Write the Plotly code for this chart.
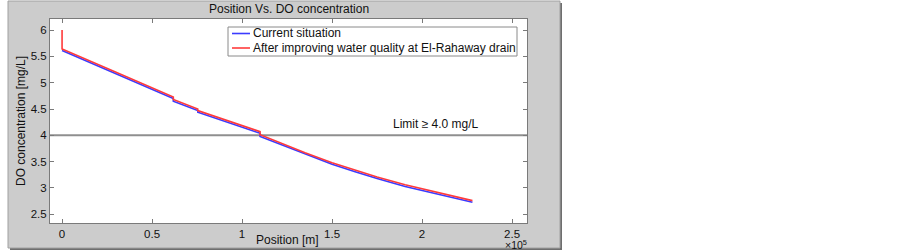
import plotly.graph_objects as go

# ---------------- data ----------------
pos_current = [0, 30000, 61800, 61800, 75400, 75400, 110000, 110000, 120000, 135000,
               150000, 162800, 175000, 190600, 205000, 228000]
do_current = [5.61, 5.17, 4.70, 4.65, 4.47, 4.44, 4.04, 3.98, 3.85, 3.64,
              3.45, 3.31, 3.18, 3.03, 2.91, 2.73]

pos_improved = [0, 0, 30000, 61800, 61800, 75400, 75400, 110000, 110000, 120000, 135000,
                150000, 162800, 175000, 190600, 205000, 228000]
do_improved = [6.00, 5.64, 5.20, 4.73, 4.68, 4.50, 4.47, 4.07, 4.01, 3.87, 3.67,
               3.48, 3.34, 3.21, 3.06, 2.94, 2.76]

series_names = ["Current situation", "After improving water quality at El-Rahaway drain"]
series_colors = ["#3b3bff", "#ff3b3b"]

limit_value = 4.0
limit_label = "Limit \u2265 4.0 mg/L"

x_tickvals = [0, 50000, 100000, 150000, 200000, 250000]
x_ticktext = ["0", "0.5", "1", "1.5", "2", "2.5"]
y_tickvals = [2.5, 3, 3.5, 4, 4.5, 5, 5.5, 6]
y_ticktext = ["2.5", "3", "3.5", "4", "4.5", "5", "5.5", "6"]

# ---------------- layout geometry (pixels) ----------------
W, H = 902, 251
L, R, T, B = 50, 527, 19, 223  # plot area


def px(xp):
    return (xp - L) / (R - L)


def py(yp):
    return (B - yp) / (B - T)


FONT = "Liberation Sans, Arial, Helvetica, sans-serif"
AXC = "#7a7a7a"
TXT = "#111111"

fig = go.Figure()
fig.add_trace(go.Scatter(x=pos_current, y=do_current, mode="lines",
                         name=series_names[0],
                         line=dict(color=series_colors[0], width=1.6)))
fig.add_trace(go.Scatter(x=pos_improved, y=do_improved, mode="lines",
                         name=series_names[1],
                         line=dict(color=series_colors[1], width=1.6)))

shapes = [
    # shadow of figure panel
    dict(type="rect", xref="paper", yref="paper", x0=px(10), x1=px(562), y0=py(3), y1=py(250),
         fillcolor="#6e6e6e", line=dict(width=0), layer="below"),
    # figure panel
    dict(type="rect", xref="paper", yref="paper", x0=px(8), x1=px(560), y0=py(1), y1=py(248),
         fillcolor="#cccccc", line=dict(color="#a0a0a0", width=1), layer="below"),
    # axes background
    dict(type="rect", xref="paper", yref="paper", x0=0, x1=1, y0=0, y1=1,
         fillcolor="white", line=dict(width=0), layer="below"),
    # limit line
    dict(type="line", xref="paper", yref="y", x0=0, x1=1, y0=limit_value, y1=limit_value,
         line=dict(color="#8f8f8f", width=2), layer="below"),
    # legend box
    dict(type="rect", xref="paper", yref="paper", x0=px(228), x1=px(517), y0=py(56), y1=py(27),
         fillcolor="white", line=dict(color="#8a8a8a", width=1), layer="above"),
]

annotations = [
    dict(text="Position Vs. DO concentration", xref="paper", yref="paper",
         x=0.5, y=py(9), showarrow=False, xanchor="center", yanchor="middle",
         font=dict(size=12, color=TXT)),
    dict(text="Position [m]", xref="paper", yref="paper",
         x=px(287), y=py(240), showarrow=False, xanchor="center", yanchor="middle",
         font=dict(size=12, color=TXT)),
    dict(text="DO concentration [mg/L]", xref="paper", yref="paper",
         x=px(21), y=0.5, showarrow=False, textangle=-90, xanchor="center", yanchor="middle",
         font=dict(size=12, color=TXT)),
    dict(text="\u00d710<sup>5</sup>", xref="paper", yref="paper",
         x=px(516), y=py(244), showarrow=False, xanchor="center", yanchor="middle",
         font=dict(size=10.5, color=TXT)),
    dict(text=limit_label, xref="x", yref="y", x=207800, y=4.21, showarrow=False,
         xanchor="center", yanchor="middle", font=dict(size=12, color=TXT)),
]

# manual legend (compact, MATLAB style)
legend_rows_y = [33.5, 48]
for name, color, ry in zip(series_names, series_colors, legend_rows_y):
    shapes.append(dict(type="line", xref="paper", yref="paper",
                       x0=px(232), x1=px(250), y0=py(ry), y1=py(ry),
                       line=dict(color=color, width=1.6), layer="above"))
    annotations.append(dict(text=name, xref="paper", yref="paper", x=px(251), y=py(ry),
                            showarrow=False, xanchor="left", yanchor="middle",
                            font=dict(size=12, color=TXT)))

fig.update_layout(
    width=W, height=H,
    margin=dict(l=L, r=W - R, t=T, b=H - B, pad=0),
    paper_bgcolor="white", plot_bgcolor="white",
    font=dict(family=FONT, size=12, color=TXT),
    shapes=shapes, annotations=annotations,
    showlegend=False,
    xaxis=dict(range=[-6700, 258300], tickvals=x_tickvals, ticktext=x_ticktext,
               ticks="inside", ticklen=4, tickcolor=AXC, showgrid=False, zeroline=False,
               showline=True, linecolor=AXC, linewidth=1, mirror="ticks",
               tickfont=dict(size=11.5, color=TXT)),
    yaxis=dict(range=[2.335, 6.21], tickvals=y_tickvals, ticktext=y_ticktext,
               ticks="inside", ticklen=4, tickcolor=AXC, showgrid=False, zeroline=False,
               showline=True, linecolor=AXC, linewidth=1, mirror="ticks",
               tickfont=dict(size=11.5, color=TXT)),
)

fig.write_html("out.html",
               config={"displayModeBar": False},
               post_script="document.body.style.margin='0';document.body.style.overflow='hidden';")
